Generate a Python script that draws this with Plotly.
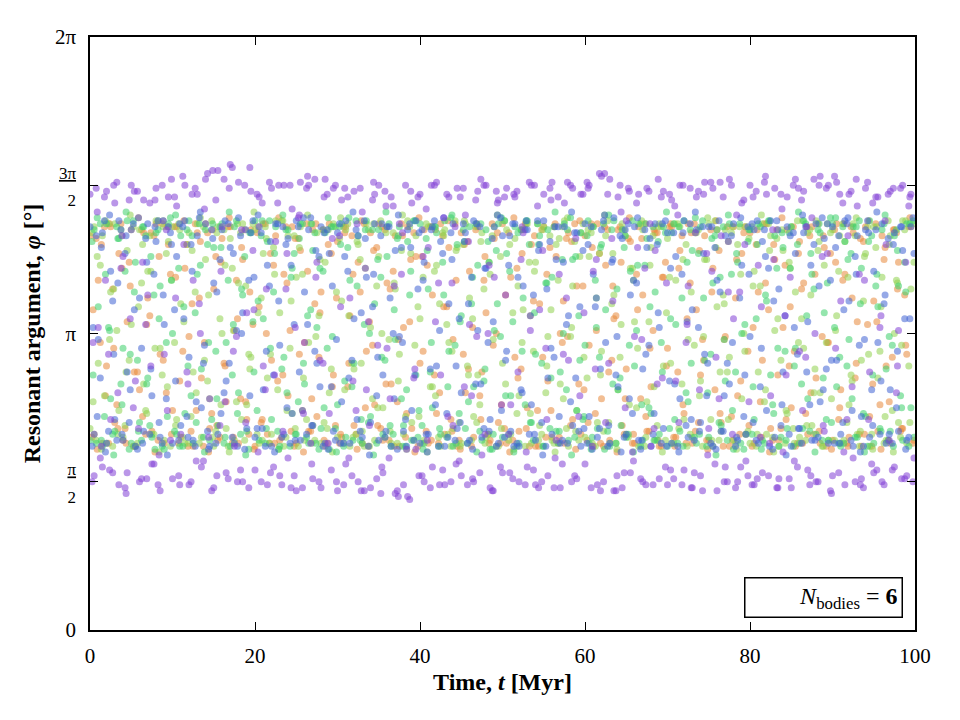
import plotly.graph_objects as go

# Output times (Myr): three interleaved output sets, every 0.5 Myr each
sample_step = 0.5
n_samples = 200
time_a = [sample_step * i for i in range(n_samples)]
time_b = [sample_step * i + 0.25 for i in range(n_samples)]
time_c = [sample_step * i + 0.375 for i in range(n_samples)]

# Resonant arguments, in units of pi
phi_purple_a = [
 1.47,0.52,1.02,0.55,1.48,0.71,1.44,0.49,1.26,0.53, 1.50,0.84,0.50,1.45,1.13,0.56,1.49,0.47,0.93,1.46,
 0.51,1.43,0.66,1.50,0.49,1.18,1.47,0.55,1.52,0.78, 0.48,1.55,1.36,0.53,1.57,0.62,1.51,0.50,1.07,1.48,
 0.54,1.46,0.89,0.49,1.49,1.31,0.52,1.50,0.58,1.42, 0.47,1.51,0.97,1.50,0.51,1.24,0.48,1.52,0.73,1.49,
 0.47,1.45,0.56,1.12,1.48,0.50,1.41,0.81,0.48,1.47, 1.50,0.53,0.95,1.46,0.46,1.37,0.49,0.45,1.44,0.61,
 1.47,0.50,1.29,0.55,1.51,0.86,0.49,1.46,0.69,1.49, 0.52,1.40,1.03,0.50,1.48,0.59,1.50,0.48,1.19,1.45,
 0.53,1.49,0.76,1.46,0.50,1.34,0.55,1.50,0.49,1.08, 1.47,0.52,1.51,0.64,0.48,1.44,0.91,1.49,0.51,1.47,
 0.56,1.50,1.21,0.49,1.53,0.70,1.52,0.47,1.46,0.48, 1.38,0.53,0.99,1.47,0.50,1.49,0.62,1.28,0.51,1.48,
 0.49,1.45,0.84,1.50,0.54,1.16,0.48,1.46,0.52,1.51, 0.68,1.49,0.47,1.33,0.55,1.52,1.05,0.50,1.44,0.57,
 1.50,0.49,1.23,0.53,1.47,0.79,1.49,0.51,0.60,1.46, 0.48,1.52,0.94,1.48,0.54,1.39,0.50,1.53,0.67,1.50,
 0.52,1.51,1.11,0.49,1.47,0.58,1.43,0.51,1.49,0.87, 0.53,1.46,0.50,1.30,1.48,0.55,1.01,1.50,0.52,1.47,
]
phi_purple_b = [
 0.50,1.49,0.58,1.46,0.93,0.53,1.51,1.22,0.48,1.45, 0.75,1.48,0.51,1.03,1.44,0.56,0.49,1.50,1.35,0.64,
 1.46,0.52,1.53,0.87,0.50,1.49,1.10,0.57,1.54,0.47, 1.45,0.69,1.52,0.51,1.56,0.99,0.54,1.50,0.48,1.28,
 1.47,0.50,0.81,1.51,0.55,1.44,0.49,1.15,1.50,0.52, 1.39,0.48,1.49,0.63,1.52,0.50,0.90,1.47,0.54,1.50,
 1.33,0.49,1.46,0.52,0.74,1.49,0.47,1.04,1.45,0.51, 0.46,1.48,0.58,1.43,0.47,1.20,1.50,0.44,0.85,1.46,
 0.52,1.42,0.48,1.50,1.17,0.54,1.47,0.50,1.36,0.57, 1.49,0.49,0.79,1.45,0.53,1.50,1.00,0.47,1.48,0.55,
 1.46,0.66,0.51,1.48,1.25,0.49,1.51,0.54,1.43,0.50, 0.95,1.49,0.48,1.46,0.56,1.12,1.50,0.52,0.72,1.47,
 1.51,0.48,0.88,1.54,0.50,1.47,1.32,0.47,1.50,0.53, 1.49,0.60,1.44,0.51,1.22,1.48,0.49,0.83,1.46,0.55,
 1.47,0.51,1.40,0.49,0.97,1.49,0.53,1.48,0.47,1.27, 1.51,0.56,0.78,1.46,0.50,1.50,0.48,1.14,1.45,0.52,
 0.49,1.48,0.65,1.51,0.52,1.35,0.48,1.47,1.06,0.51, 1.50,0.55,1.45,0.92,0.49,1.52,0.50,1.26,1.49,0.47,
 1.53,0.53,1.44,0.71,1.48,0.50,1.20,0.48,1.51,0.56, 1.46,1.02,0.49,1.47,0.54,0.80,1.49,0.51,1.43,0.50,
]
phi_purple_c = [
 0.97,1.41,0.62,1.18,0.54,1.50,0.80,1.33,0.46,1.05, 1.48,0.68,1.24,0.51,0.89,1.45,0.59,1.38,0.74,1.52,
 1.12,0.49,1.30,0.83,1.47,0.57,1.00,1.42,0.65,1.55, 0.52,1.21,0.77,1.49,0.94,0.50,1.35,0.70,1.56,1.08,
 0.60,1.44,1.15,0.53,0.86,1.50,0.67,1.27,0.48,1.02, 1.40,0.73,1.53,0.56,1.19,0.91,1.46,0.63,1.32,0.50,
 1.09,1.49,0.58,0.84,1.37,0.47,1.22,0.69,1.51,0.96, 0.55,1.43,0.78,1.16,0.45,1.34,0.61,1.48,0.88,0.52,
 1.26,0.64,1.50,1.04,0.49,1.39,0.72,1.17,0.56,1.46, 0.82,1.31,0.51,0.99,1.52,0.66,1.23,0.47,1.44,0.76,
 1.13,0.53,1.47,0.87,1.36,0.60,1.01,1.50,0.48,1.28, 0.71,1.45,0.58,1.20,0.93,1.51,0.50,1.32,0.79,1.07,
 1.49,0.62,1.25,0.47,1.54,0.90,1.11,0.52,1.41,0.75, 1.48,0.57,1.29,0.98,0.49,1.37,0.68,1.52,0.85,1.17,
 0.54,1.43,0.70,1.50,1.03,0.48,1.34,0.81,1.47,0.59, 1.21,0.92,1.51,0.50,1.14,0.66,1.40,0.55,1.30,0.77,
 1.46,0.51,1.09,1.53,0.63,1.25,0.48,1.42,0.86,1.19, 0.57,1.49,0.74,1.36,0.52,1.00,1.50,0.69,1.27,0.46,
 0.95,1.47,0.60,1.33,0.82,1.52,0.49,1.18,0.71,1.44, 0.54,1.06,1.38,0.64,1.49,0.89,0.51,1.24,1.46,0.58,
]
phi_blue_a = [
 1.36,0.66,0.98,1.34,0.63,1.21,0.71,1.38,0.64,0.87, 1.35,0.62,1.12,0.67,1.37,0.79,1.31,0.65,1.03,1.36,
 0.63,1.26,0.69,1.38,0.92,0.64,1.33,0.75,1.37,0.62, 1.17,0.66,1.35,0.84,1.29,0.63,1.39,1.07,0.68,1.34,
 0.65,1.36,0.81,1.23,0.62,1.37,0.96,0.66,1.32,0.73, 1.38,0.64,1.14,1.35,0.69,0.90,1.36,0.63,1.27,0.67,
 1.34,0.77,1.38,0.63,1.05,1.33,0.65,1.19,0.70,1.37, 0.64,0.86,1.36,0.62,1.28,0.99,0.67,1.35,0.74,1.38,
 0.63,1.24,0.66,1.36,0.89,1.31,0.62,1.10,1.37,0.68, 0.80,1.34,0.64,1.38,1.01,0.65,1.22,0.71,1.36,0.63,
 1.33,0.94,0.67,1.37,0.62,1.16,1.35,0.76,0.64,1.30, 1.38,0.85,0.66,1.25,0.63,1.36,1.06,0.69,1.34,0.62,
 1.37,0.72,1.20,0.65,1.35,0.97,0.63,1.39,0.82,1.32, 0.66,1.13,1.36,0.64,0.88,1.29,0.62,1.37,1.02,0.68,
 1.34,0.63,1.26,0.78,1.38,0.65,1.08,1.35,0.70,0.93, 1.36,0.62,1.18,0.67,1.33,0.83,1.37,0.64,1.23,0.66,
 0.99,1.35,0.63,1.31,0.74,1.38,0.65,1.15,0.87,1.36, 0.62,1.27,0.68,1.34,1.04,0.64,1.37,0.77,1.32,0.63,
 1.36,0.91,0.66,1.38,1.11,0.62,1.33,0.72,1.35,0.65, 1.21,0.97,1.37,0.63,0.81,1.34,0.67,1.28,0.64,1.36,
]
phi_blue_b = [
 0.62,1.33,0.85,1.38,0.67,1.11,0.64,1.35,1.27,0.70, 1.37,0.61,0.95,1.32,0.66,1.20,1.38,0.63,0.78,1.34,
 1.08,0.64,1.36,0.72,1.30,0.62,1.39,0.90,0.67,1.35, 0.63,1.25,0.80,1.37,0.65,1.01,1.33,0.61,1.18,1.38,
 0.68,1.34,0.62,1.16,0.86,1.37,0.65,1.30,0.63,1.03, 1.36,0.74,0.66,1.39,0.94,1.26,0.62,1.35,0.82,0.64,
 1.37,0.63,1.21,0.91,1.35,0.67,1.38,0.62,1.09,0.79, 1.33,0.65,1.36,1.00,0.61,1.29,0.71,1.37,0.64,1.15,
 1.35,0.66,0.88,1.38,0.62,1.27,0.73,1.34,0.64,1.05, 1.37,0.63,1.19,0.83,1.36,0.68,0.97,1.32,0.62,1.39,
 0.65,1.23,1.37,0.63,0.81,1.35,0.66,1.13,1.38,0.70, 0.62,1.31,0.92,1.36,0.64,1.03,0.77,1.34,0.67,1.28,
 0.63,1.36,1.09,0.68,1.38,0.62,1.24,0.86,1.33,0.65, 1.37,0.73,1.17,0.61,1.35,0.96,0.66,1.30,0.63,1.38,
 0.84,1.34,0.62,1.20,0.69,1.37,0.64,1.02,1.36,0.79, 0.63,1.29,1.38,0.67,0.90,1.33,0.62,1.12,0.72,1.36,
 1.37,0.64,0.82,1.35,1.22,0.61,1.38,0.69,1.06,0.66, 1.34,0.93,0.63,1.36,0.76,1.30,0.65,1.39,0.88,1.18,
 0.63,1.33,0.70,1.37,0.64,1.26,0.96,0.62,1.38,0.81, 1.35,0.66,1.10,1.32,0.63,0.75,1.36,1.05,0.65,1.39,
]
phi_blue_c = [
 1.02,0.72,1.29,0.60,1.40,0.93,1.17,0.66,1.33,0.81, 1.08,1.39,0.63,1.24,0.88,1.36,0.70,1.13,0.59,1.30,
 0.84,1.37,1.05,0.65,1.21,0.77,1.41,0.96,0.61,1.32, 1.14,0.73,1.38,0.90,1.27,0.62,1.00,1.35,0.79,1.19,
 1.40,0.68,0.94,1.31,0.60,1.11,1.36,0.75,1.23,0.64, 0.87,1.39,1.03,0.69,1.28,0.82,1.34,0.61,1.16,0.98,
 0.63,1.26,0.85,1.41,0.71,1.07,1.32,0.59,1.20,0.92, 1.37,0.67,1.12,0.78,1.40,0.97,0.62,1.29,0.86,1.34,
 1.18,0.60,1.35,0.76,1.01,1.39,0.65,1.25,0.89,0.70, 1.31,1.10,0.61,1.37,0.83,1.22,0.67,1.04,1.40,0.74,
 0.91,1.33,0.62,1.19,0.80,1.38,1.06,0.66,1.28,0.59, 1.15,0.95,1.36,0.72,1.24,0.63,1.41,0.85,1.09,0.68,
 1.30,0.61,1.12,0.88,1.40,0.69,1.25,0.99,0.60,1.35, 0.78,1.18,1.39,0.64,0.93,1.32,0.73,1.07,1.37,0.62,
 1.22,0.83,0.60,1.34,1.04,0.71,1.41,0.67,1.27,0.90, 1.36,0.61,1.14,0.79,1.31,0.97,0.65,1.39,0.86,1.20,
 0.70,1.38,0.95,1.26,0.62,1.11,1.35,0.76,0.59,1.33, 1.02,0.68,1.40,0.87,1.23,0.64,1.16,0.81,1.37,0.91,
 1.29,0.63,1.08,1.39,0.74,1.20,0.60,0.98,1.34,0.69, 1.41,0.84,1.13,0.66,1.30,0.94,1.36,0.61,1.05,1.27,
]
phi_green_a = [
 0.64,1.35,1.09,0.62,1.37,0.78,0.67,1.32,0.95,1.38, 0.63,1.24,0.70,1.36,0.85,0.65,1.34,1.16,0.61,1.37,
 1.00,0.66,1.33,0.73,1.38,0.63,1.20,0.88,1.35,0.64, 1.29,0.69,1.37,0.97,0.62,1.36,0.80,1.13,0.67,1.34,
 1.38,0.64,1.05,1.31,0.71,1.36,0.62,0.92,1.35,1.22, 0.66,1.37,0.83,0.63,1.28,1.02,0.68,1.34,0.61,1.36,
 0.76,1.37,0.65,1.18,0.90,1.33,0.63,1.38,0.72,1.10, 1.35,0.66,1.26,0.62,0.98,1.36,0.69,1.31,0.64,0.86,
 1.37,0.63,1.15,0.75,1.34,0.66,1.38,0.94,0.62,1.30, 1.06,0.68,1.36,0.82,1.23,0.64,1.35,0.61,1.01,1.37,
 0.65,1.27,0.79,1.36,0.63,1.12,1.38,0.70,0.93,1.33, 0.62,1.35,1.19,0.67,0.87,1.37,0.64,1.25,0.74,1.34,
 0.96,0.63,1.36,0.68,1.30,1.08,0.62,1.38,0.81,1.35, 0.65,1.21,0.89,1.37,0.64,1.32,0.73,1.14,0.66,1.36,
 0.62,1.34,1.03,0.67,1.38,0.77,1.28,0.63,1.36,0.91, 0.65,1.17,1.35,0.69,0.84,1.37,0.61,1.24,1.00,0.66,
 1.35,0.71,1.37,0.64,1.11,0.86,1.33,0.62,1.29,0.68, 1.36,0.95,0.63,1.38,0.78,1.20,0.66,1.34,1.07,0.64,
 1.37,0.82,0.62,1.31,0.98,1.36,0.65,1.22,0.72,1.38, 0.63,1.09,1.35,0.88,0.67,1.33,1.16,0.64,1.37,0.75,
]
phi_green_b = [
 1.31,0.63,1.37,0.72,1.02,0.66,1.36,0.83,1.21,0.61, 1.38,0.91,0.64,1.33,0.69,1.13,1.35,0.62,0.97,1.39,
 0.67,1.22,0.62,1.35,0.79,1.07,1.37,0.65,1.30,0.71, 0.94,1.36,0.63,1.18,0.86,1.38,0.66,1.26,0.61,1.04,
 0.74,1.33,0.63,1.38,1.14,0.67,0.88,1.35,0.62,1.27, 0.77,1.37,0.65,1.08,1.34,0.61,1.21,0.95,1.36,0.68,
 1.36,0.62,1.29,0.82,1.38,0.64,1.03,0.70,1.35,0.63, 1.19,0.91,1.37,0.66,1.32,0.78,0.62,1.13,1.38,0.65,
 0.69,1.32,0.87,1.36,0.62,1.24,0.65,1.39,0.96,0.73, 1.35,0.63,1.10,1.37,0.67,0.84,1.31,0.61,1.28,0.99,
 1.38,0.66,1.04,0.62,1.35,0.76,1.30,0.64,1.37,0.90, 1.17,0.68,1.36,0.63,1.25,0.81,1.39,0.65,1.06,0.71,
 1.33,0.61,1.18,0.92,1.37,0.67,1.35,0.63,0.85,1.29, 0.66,1.38,1.01,0.62,1.23,0.75,1.36,0.64,0.97,1.34,
 0.68,1.37,0.63,1.12,0.80,1.35,0.65,1.27,1.38,0.62, 0.93,1.33,0.70,1.36,0.64,1.20,0.87,1.37,0.61,1.31,
 0.66,1.05,1.36,0.63,1.38,0.76,1.22,0.65,0.94,1.34, 0.62,1.30,0.83,1.37,0.67,1.15,1.35,0.64,0.71,1.39,
 1.02,0.63,1.36,0.89,1.27,0.65,1.38,0.73,0.62,1.33, 1.16,0.68,1.37,0.64,0.96,1.35,0.79,1.24,0.62,1.38,
]
phi_green_c = [
 0.86,1.39,0.64,1.20,1.01,0.59,1.32,0.76,1.41,0.93, 1.14,0.67,1.36,0.83,1.26,0.61,1.05,1.38,0.72,1.18,
 1.40,0.62,1.09,0.89,1.33,0.70,1.23,0.60,0.97,1.37, 0.78,1.29,0.65,1.41,1.03,0.73,1.15,0.59,1.34,0.87,
 1.11,1.38,0.68,0.95,1.27,0.61,1.40,0.80,1.19,0.66, 1.32,0.90,1.06,1.37,0.63,1.22,0.75,1.39,0.99,0.60,
 1.30,0.84,1.39,0.64,1.16,0.71,1.35,1.00,0.59,1.25, 0.92,1.41,0.69,1.08,1.33,0.62,0.81,1.21,1.38,0.74,
 0.61,1.28,0.97,1.36,0.68,1.13,0.82,1.40,0.63,1.04, 1.31,0.77,1.19,0.60,1.37,0.88,1.24,0.66,1.10,1.39,
 0.79,1.21,0.60,1.34,0.94,1.38,0.70,1.07,1.30,0.62, 1.17,0.85,1.41,0.67,1.00,1.35,0.59,1.26,0.91,0.72,
 1.38,0.65,1.02,1.29,0.61,1.40,0.83,1.15,0.69,1.33, 0.96,0.60,1.23,0.76,1.37,1.09,0.64,1.31,0.87,1.41,
 1.05,0.71,1.36,0.62,1.24,0.90,1.39,0.66,1.12,0.80, 1.32,0.59,1.19,0.98,1.40,0.74,1.27,0.63,1.03,1.35,
 0.82,1.30,0.61,1.13,1.38,0.73,0.95,1.34,0.64,1.22, 0.89,1.41,0.68,1.06,1.27,0.60,1.37,0.85,1.17,0.70,
 1.39,0.92,0.63,1.25,0.78,1.36,1.10,0.60,1.31,0.86, 1.20,0.67,1.40,0.99,0.62,1.28,0.75,1.14,1.37,0.65,
]
phi_orange_a = [
 1.33,0.66,1.18,0.63,0.89,1.36,0.70,1.27,0.64,1.04, 1.35,0.62,0.81,1.34,1.12,0.67,1.37,0.93,0.63,1.30,
 0.74,1.36,0.65,1.22,0.99,0.62,1.34,0.85,1.37,0.68, 1.15,0.64,1.32,0.77,1.36,1.01,0.63,1.25,0.71,1.35,
 0.62,1.09,1.37,0.66,0.91,1.33,0.64,1.20,0.79,1.36, 0.63,1.28,0.97,0.67,1.35,0.72,1.14,0.62,1.37,0.86,
 1.31,0.65,1.36,1.06,0.69,1.24,0.63,0.94,1.34,0.76, 1.37,0.64,1.17,0.83,1.33,0.62,1.02,1.36,0.68,1.26,
 0.90,1.35,0.63,1.13,0.73,1.37,0.66,1.29,0.98,0.62, 1.34,0.80,1.21,0.65,1.36,0.87,1.07,0.64,1.32,0.70,
 1.37,0.63,1.19,0.92,0.67,1.35,0.75,1.30,0.62,1.10, 1.36,0.84,0.65,1.26,1.00,0.63,1.34,0.71,1.16,0.66,
 1.33,0.96,0.62,1.37,0.78,1.23,0.64,1.05,1.35,0.69, 0.88,1.31,0.63,1.36,1.13,0.67,0.82,1.34,0.62,1.19,
 0.95,1.36,0.65,1.28,0.73,1.37,0.63,1.08,0.86,1.33, 0.64,1.22,1.35,0.70,0.99,0.62,1.36,0.79,1.27,0.66,
 1.34,0.63,1.14,0.91,1.37,0.68,1.25,0.64,1.02,1.35, 0.75,0.62,1.31,1.17,0.66,1.36,0.85,0.63,1.29,0.97,
 0.64,1.37,0.81,1.20,0.65,1.34,1.04,0.62,1.36,0.72, 1.11,0.67,1.33,0.89,0.63,1.35,1.24,0.68,0.93,1.36,
]
phi_orange_b = [
 0.65,1.32,0.97,1.36,0.63,1.15,0.76,1.37,0.68,1.24, 0.62,0.87,1.35,0.66,1.06,1.33,0.64,1.37,0.80,1.20,
 1.36,0.63,0.94,1.30,0.67,1.37,1.12,0.62,1.34,0.73, 1.26,0.65,0.90,1.36,0.63,1.18,0.78,1.35,0.66,1.03,
 1.34,0.70,1.37,0.63,1.23,0.84,0.65,1.36,1.01,0.62, 1.32,0.74,1.37,0.67,1.10,0.92,1.35,0.63,1.27,0.69,
 0.63,1.36,0.82,1.33,0.66,1.14,1.37,0.62,0.96,1.29, 0.68,1.35,0.64,1.21,0.77,1.37,0.65,1.04,1.34,0.62,
 1.26,0.67,1.36,0.86,0.63,1.33,1.09,0.71,1.37,0.64, 0.93,1.31,0.62,1.35,0.79,1.18,0.66,1.37,1.00,0.63,
 0.68,1.34,0.64,1.22,0.88,1.37,0.62,1.11,0.74,1.35, 0.65,1.29,1.36,0.63,0.97,1.32,0.69,1.37,0.83,1.16,
 0.64,1.37,0.73,1.27,0.62,1.35,0.91,1.06,1.36,0.66, 1.32,0.63,1.20,0.78,1.37,0.67,1.01,1.34,0.62,1.24,
 1.36,0.65,0.87,1.33,0.63,1.17,1.37,0.70,0.98,0.64, 1.35,0.81,1.28,0.62,1.36,0.72,1.12,0.66,1.34,0.94,
 0.62,1.30,0.77,1.37,1.08,0.64,1.35,0.68,1.23,0.89, 1.36,0.63,1.15,0.73,1.33,0.66,1.37,0.99,0.62,1.27,
 1.35,0.71,1.18,0.63,1.36,0.85,0.66,1.31,1.03,0.62, 1.37,0.76,1.25,0.64,0.92,1.34,0.67,1.13,1.36,0.63,
]
phi_orange_c = [
 1.08,0.61,1.30,0.79,1.37,0.95,0.68,1.22,0.63,1.16, 0.87,1.39,0.72,1.03,1.34,0.60,1.26,0.91,1.36,0.66,
 1.19,0.84,1.38,0.62,1.10,0.74,1.31,0.97,0.60,1.35, 0.69,1.24,0.89,1.39,0.65,1.05,1.29,0.77,1.14,0.61,
 1.36,0.71,1.00,1.27,0.63,1.39,0.86,1.17,0.67,1.32, 0.93,0.60,1.21,0.78,1.37,1.07,0.64,1.30,0.82,1.12,
 0.66,1.34,0.90,1.20,0.61,1.38,0.75,1.04,1.28,0.69, 1.36,0.83,1.15,0.62,0.98,1.33,0.73,1.25,0.60,1.39,
 0.94,1.23,0.64,1.35,0.80,1.09,1.38,0.67,1.18,0.61, 1.30,0.88,1.02,1.37,0.71,1.26,0.63,0.96,1.34,0.76,
 1.13,0.60,1.39,0.85,1.27,0.68,1.06,1.33,0.62,0.92, 1.20,0.74,1.37,0.65,1.11,0.99,1.31,0.61,1.38,0.81,
 0.70,1.29,1.01,0.63,1.36,0.87,1.16,0.60,1.24,0.78, 1.39,0.66,1.08,1.32,0.72,0.95,1.35,0.64,1.19,0.89,
 1.37,0.62,1.22,0.76,1.05,1.34,0.67,1.28,0.91,0.61, 1.14,1.38,0.73,0.98,1.31,0.64,1.25,0.84,1.36,0.69,
 1.02,1.35,0.65,1.17,0.60,1.30,0.86,1.39,0.71,1.09, 0.94,1.27,0.63,1.36,0.80,1.20,0.67,1.33,0.97,0.61,
 1.24,0.75,1.37,0.62,1.12,0.90,1.32,0.66,1.38,0.83, 1.04,0.61,1.29,0.77,1.35,1.15,0.68,0.96,1.39,0.64,
]
phi_lime_a = [
 0.68,1.36,0.90,1.33,0.63,1.14,1.37,0.74,0.65,1.28, 1.03,0.62,1.35,0.83,1.21,0.66,1.38,0.95,0.64,1.31,
 1.36,0.71,1.10,0.63,1.34,0.87,1.37,0.65,1.25,0.78, 0.62,1.36,1.00,0.68,1.32,0.64,1.17,1.37,0.76,0.92,
 1.35,0.63,1.27,0.85,0.66,1.38,1.07,0.62,1.33,0.73, 1.19,1.36,0.64,0.97,0.69,1.34,0.63,1.24,0.80,1.37,
 0.65,1.11,1.35,0.62,0.88,1.30,0.67,1.37,1.02,0.64, 1.26,0.75,1.36,0.63,1.15,0.93,0.66,1.38,0.70,1.33,
 1.05,0.64,1.36,0.82,1.23,0.62,1.35,0.97,0.68,1.29, 0.63,1.37,1.12,0.72,0.86,1.34,0.65,1.20,1.36,0.62,
 0.90,1.35,0.66,1.32,0.79,1.08,1.37,0.63,1.24,0.69, 1.36,0.99,0.64,1.30,0.83,1.38,0.62,1.16,0.74,1.34,
 0.65,1.26,1.36,0.70,0.94,1.33,0.63,1.13,0.81,1.37, 0.66,1.22,1.04,0.62,1.35,0.77,1.29,0.64,1.37,0.89,
 1.32,0.63,1.18,1.36,0.71,0.98,0.65,1.34,0.84,1.25, 1.37,0.62,1.09,0.67,1.35,0.92,0.64,1.30,0.78,1.36,
 0.63,1.21,0.87,1.37,0.66,1.33,1.01,0.62,1.28,0.73, 1.36,1.14,0.65,0.95,1.34,0.69,1.38,0.80,1.23,0.64,
 1.35,1.06,0.63,1.31,0.76,1.37,0.66,0.91,1.27,0.62, 1.36,0.85,1.19,0.64,1.33,1.00,0.70,1.38,0.63,1.15,
]
phi_lime_b = [
 1.34,0.64,1.23,0.79,1.37,0.62,1.01,1.35,0.69,0.91, 1.36,0.63,1.17,0.74,1.33,0.66,1.38,0.86,1.27,0.62,
 0.97,1.37,0.65,1.30,0.72,1.14,0.63,1.36,0.84,1.38, 0.67,1.05,1.35,0.62,1.22,0.77,1.34,0.64,0.93,1.37,
 0.66,1.12,1.36,0.63,1.29,0.81,1.38,0.65,0.95,1.33, 0.62,1.20,0.71,1.37,0.64,1.06,1.35,0.68,0.88,1.36,
 1.32,0.63,1.37,0.90,0.66,1.25,0.62,1.35,0.78,1.16, 1.38,0.65,0.98,1.34,0.63,1.28,0.72,1.36,0.64,1.09,
 0.63,1.37,0.82,1.21,0.65,1.34,1.03,0.62,1.38,0.70, 1.30,0.89,0.64,1.36,0.76,1.15,0.66,1.33,0.62,1.26,
 1.38,0.64,1.07,0.73,1.35,0.62,1.24,0.94,1.37,0.66, 0.80,1.33,0.63,1.18,1.36,0.68,0.99,1.31,0.64,1.37,
 0.85,1.34,0.62,1.27,0.67,1.38,1.10,0.63,0.92,1.35, 0.65,1.22,0.75,1.37,0.62,1.04,1.33,0.69,1.36,0.64,
 1.19,0.63,1.37,0.83,1.30,0.66,0.96,1.35,0.62,1.25, 0.71,1.38,0.64,1.13,0.87,1.34,0.63,1.36,1.00,0.67,
 1.36,0.62,1.16,0.77,1.37,0.65,1.32,0.91,0.63,1.24, 0.68,1.38,1.05,0.64,1.35,0.80,1.28,0.62,0.97,1.34,
 0.64,1.21,1.37,0.70,0.86,1.33,0.62,1.11,1.36,0.66, 1.29,0.94,0.63,1.38,0.74,1.18,0.65,1.35,0.89,1.37,
]
phi_lime_c = [
 0.77,1.26,0.61,1.38,0.98,1.15,0.66,1.33,0.87,1.40, 0.62,1.09,1.30,0.73,1.21,0.95,0.60,1.36,0.82,1.18,
 0.69,1.35,1.04,0.63,1.28,0.80,1.39,0.91,1.13,0.65, 1.34,0.76,1.23,0.60,1.01,1.37,0.71,1.16,0.88,1.41,
 1.07,0.64,1.32,0.93,1.20,0.61,1.38,0.74,1.11,0.68, 1.29,0.85,1.40,0.63,0.99,1.25,0.70,1.35,0.60,1.14,
 1.39,0.81,1.06,0.65,1.31,0.90,1.22,0.62,1.37,0.75, 1.00,1.34,0.67,1.17,0.84,1.40,0.61,1.27,0.96,0.72,
 1.19,0.60,1.36,0.79,1.10,1.33,0.66,0.94,1.28,0.62, 1.38,0.86,1.05,0.70,1.31,0.63,1.24,0.98,1.40,0.68,
 0.83,1.30,0.61,1.16,0.97,1.37,0.73,1.21,0.64,1.35, 0.89,1.08,0.60,1.32,0.78,1.39,1.02,0.67,1.26,0.92,
 1.35,0.63,1.12,0.86,1.40,0.70,1.27,0.61,1.03,1.33, 0.76,1.18,0.95,1.38,0.65,1.23,0.82,1.36,0.60,1.07,
 0.90,1.37,0.68,1.25,0.62,1.14,1.34,0.79,0.99,1.39, 0.64,1.29,0.87,1.10,0.71,1.36,0.61,1.20,0.94,1.32,
 1.16,0.66,1.40,0.81,1.28,0.60,1.05,1.35,0.74,1.22, 0.63,0.97,1.38,0.69,1.13,0.88,1.31,0.62,1.37,0.78,
 1.01,1.33,0.64,1.19,0.84,1.39,0.67,1.26,0.93,0.61, 1.36,1.09,0.72,1.30,0.60,1.17,0.96,1.38,0.70,1.24,
]

series = [
    ("orange", (phi_orange_a, phi_orange_b, phi_orange_c), "#e8893a"),
    ("lime", (phi_lime_a, phi_lime_b, phi_lime_c), "#8fd14f"),
    ("green", (phi_green_a, phi_green_b, phi_green_c), "#3ccf6a"),
    ("blue", (phi_blue_a, phi_blue_b, phi_blue_c), "#3f63d4"),
    ("purple", (phi_purple_a, phi_purple_b, phi_purple_c), "#8140d6"),
]

x_ticks = [0, 20, 40, 60, 80, 100]
y_tickvals = [0, 0.5, 1, 1.5, 2]
frac = "<span style='font-size:17px'><u>{n}</u><br>2</span>"
y_ticktext = ["0", frac.format(n="π"), "π", frac.format(n="3π"), "2π"]

fig = go.Figure()
for name, (va, vb, vc), col in series:
    fig.add_trace(go.Scatter(
        x=time_a + time_b + time_c, y=va + vb + vc, mode="markers", name=name,
        marker=dict(size=7, color=col, opacity=0.55, line=dict(width=0)),
        showlegend=False,
    ))

font_fam = "Liberation Serif, DejaVu Serif, serif"
axis_common = dict(
    showline=True, linecolor="black", linewidth=1.5, mirror="ticks",
    ticks="inside", ticklen=8, tickwidth=1.2, tickcolor="black",
    showgrid=False, zeroline=False,
    tickfont=dict(family=font_fam, size=21, color="black"),
)
fig.update_xaxes(range=[0, 100], tickvals=x_ticks, ticklabelstandoff=6,
                 title=dict(text="<b>Time, <i>t</i> [Myr]</b>",
                            font=dict(family=font_fam, size=24, color="black"), standoff=6),
                 **axis_common)
fig.update_yaxes(range=[0, 2], tickvals=y_tickvals, ticktext=y_ticktext, ticklabelstandoff=8,
                 title=dict(text="<b>Resonant argument, <i>φ</i> [°]</b>",
                            font=dict(family=font_fam, size=24, color="black"), standoff=8),
                 **axis_common)

fig.add_annotation(
    xref="paper", yref="paper", x=0.985, y=0.02, xanchor="right", yanchor="bottom",
    text="<i>N</i><sub>bodies</sub> = <b>6</b>", showarrow=False,
    font=dict(family=font_fam, size=24, color="black"),
    bordercolor="black", borderwidth=1.5, borderpad=4, bgcolor="white",
    width=148, align="right",
)

fig.update_layout(
    width=960, height=720,
    margin=dict(l=90, r=45, t=37, b=90),
    plot_bgcolor="white", paper_bgcolor="white",
)

fig.write_html("out.html")
